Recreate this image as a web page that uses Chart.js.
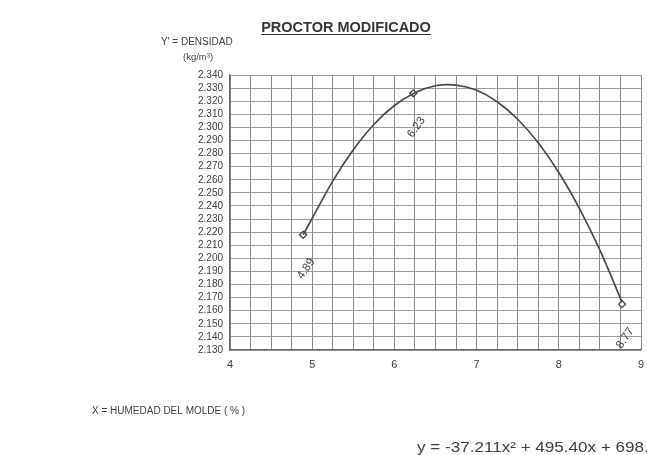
<!DOCTYPE html>
<html>
<head>
<meta charset="utf-8">
<script src="https://cdn.jsdelivr.net/npm/chart.js@4"></script>
<style>
html,body{margin:0;padding:0;background:#ffffff;}
#wrap{position:relative;width:647px;height:455px;}
</style>
</head>
<body>
<div id="wrap"><canvas id="c" width="647" height="455"></canvas></div>
<script>
// Measured Proctor points
const moisture = [4.89, 6.23, 8.77];
const density = [2.218, 2.326, 2.165];
const pointLabels = ['4.89', '6.23', '8.77'];
// Fitted curve
const curveX = [4.89, 5.0, 5.25, 5.5, 5.75, 6.0, 6.25, 6.5, 6.75, 7.0, 7.25, 7.5, 7.75, 8.0, 8.25, 8.5, 8.77];
const curveY = [2.2180, 2.2306, 2.2590, 2.2829, 2.3022, 2.3167, 2.3265, 2.3318, 2.3323, 2.3283, 2.3196, 2.3062, 2.2882, 2.2656, 2.2382, 2.2063, 2.1665];
// Axis ticks
const xTickLabels = [4, 5, 6, 7, 8, 9];
const yMin = 2.13, yMax = 2.34, yStep = 0.01;
const xMin = 4, xMax = 9, xStep = 0.25;

const chartTitle = 'PROCTOR MODIFICADO';
const yTitle1 = "Y' = DENSIDAD";
const yTitle2 = '(kg/m\u00B3)';
const xTitle = 'X = HUMEDAD DEL MOLDE ( % )';
const equation = 'y = -37.211x\u00B2 + 495.40x + 698.62';

const FONT = '"Liberation Sans", Arial, sans-serif';
const TXT = '#404040';

const decor = {
  id: 'decor',
  afterDatasetsDraw(chart) {
    const ctx = chart.ctx;
    const meta = chart.getDatasetMeta(1);
    ctx.save();
    ctx.fillStyle = TXT;
    ctx.font = '11.5px ' + FONT;
    ctx.textAlign = 'center';
    ctx.textBaseline = 'middle';
    meta.data.forEach((pt, i) => {
      ctx.save();
      ctx.translate(pt.x + 3, pt.y + 34);
      ctx.rotate(-55 * Math.PI / 180);
      ctx.fillText(pointLabels[i], 0, 0);
      ctx.restore();
    });
    ctx.restore();
  },
  afterDraw(chart) {
    const ctx = chart.ctx;
    ctx.save();
    ctx.fillStyle = '#363636';
    ctx.strokeStyle = '#363636';
    ctx.font = 'bold 14.5px ' + FONT;
    ctx.textAlign = 'center';
    ctx.textBaseline = 'alphabetic';
    const tx = 346, ty = 32;
    ctx.fillText(chartTitle, tx, ty);
    const w = ctx.measureText(chartTitle).width;
    ctx.lineWidth = 1.2;
    ctx.beginPath();
    ctx.moveTo(tx - w / 2, ty + 2.5);
    ctx.lineTo(tx + w / 2, ty + 2.5);
    ctx.stroke();

    ctx.fillStyle = TXT;
    ctx.font = '10px ' + FONT;
    ctx.textAlign = 'left';
    ctx.fillText(yTitle1, 161, 45);
    ctx.font = '9.5px ' + FONT;
    ctx.fillText(yTitle2, 183, 60);

    ctx.font = '10px ' + FONT;
    ctx.fillText(xTitle, 92, 414);

    ctx.save();
    ctx.translate(417, 452);
    ctx.scale(1.22, 1);
    ctx.font = '14px ' + FONT;
    ctx.fillText(equation, 0, 0);
    ctx.restore();
    ctx.restore();
  }
};

new Chart(document.getElementById('c'), {
  type: 'scatter',
  data: {
    datasets: [
      {
        label: 'curva',
        data: curveX.map((x, i) => ({x: x, y: curveY[i]})),
        showLine: true,
        borderColor: '#4a4a4a',
        borderWidth: 1.7,
        pointRadius: 0,
        tension: 0.35,
        fill: false
      },
      {
        label: 'puntos',
        data: moisture.map((x, i) => ({x: x, y: density[i]})),
        showLine: false,
        pointStyle: 'rectRot',
        pointRadius: 3.5,
        pointBorderWidth: 1.3,
        pointBackgroundColor: '#ffffff',
        pointBorderColor: '#4a4a4a'
      }
    ]
  },
  options: {
    responsive: false,
    animation: false,
    events: [],
    layout: {padding: {left: 0, top: 75, right: 0, bottom: 0}},
    plugins: {legend: {display: false}, tooltip: {enabled: false}, title: {display: false}},
    scales: {
      x: {
        type: 'linear',
        min: xMin, max: xMax,
        afterFit(s) { s.height = 105; s.paddingRight = 6; },
        ticks: {
          stepSize: xStep,
          autoSkip: false,
          maxRotation: 0,
          padding: 8,
          color: TXT,
          font: {family: FONT, size: 11},
          callback(v) { return xTickLabels.includes(v) ? String(v) : ''; }
        },
        grid: {color: '#8a8a8a', lineWidth: 1, drawTicks: false},
        border: {color: '#666666', width: 1.2}
      },
      y: {
        type: 'linear',
        min: yMin, max: yMax,
        afterFit(s) { s.width = 230; },
        ticks: {
          stepSize: yStep,
          autoSkip: false,
          padding: 7,
          color: TXT,
          font: {family: FONT, size: 10, lineHeight: 1},
          callback(v) { return Number(v).toFixed(3); }
        },
        grid: {color: '#9c9c9c', lineWidth: 1, drawTicks: false},
        border: {color: '#666666', width: 1.2}
      }
    }
  },
  plugins: [decor]
});
</script>
</body>
</html>
